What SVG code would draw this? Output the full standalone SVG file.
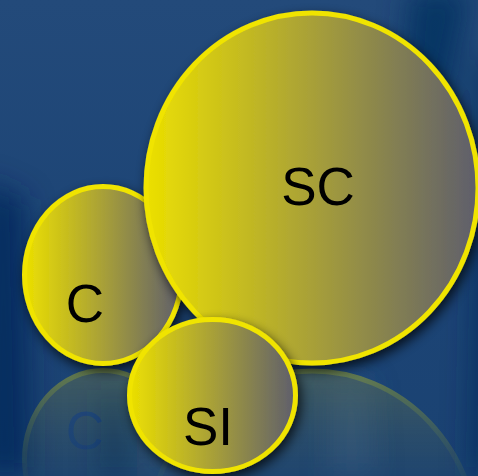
<svg xmlns="http://www.w3.org/2000/svg" width="478" height="476" viewBox="0 0 478 476">
  <defs>
    <linearGradient id="bg" x1="0" y1="0" x2="0" y2="1">
      <stop offset="0" stop-color="#234a7a"/>
      <stop offset="0.5" stop-color="#1d4576"/>
      <stop offset="1" stop-color="#1a4272"/>
    </linearGradient>
    <linearGradient id="ball" x1="0" y1="0" x2="1" y2="0">
      <stop offset="0" stop-color="#ece000"/>
      <stop offset="0.5" stop-color="#a8a038"/>
      <stop offset="1" stop-color="#5e5e6c"/>
    </linearGradient>
    <linearGradient id="fade" x1="0" y1="0" x2="0" y2="1">
      <stop offset="0" stop-color="#fff" stop-opacity="0.35"/>
      <stop offset="0.6" stop-color="#fff" stop-opacity="0.15"/>
      <stop offset="1" stop-color="#fff" stop-opacity="0.05"/>
    </linearGradient>
    <mask id="reflMask" maskUnits="userSpaceOnUse" x="0" y="360" width="478" height="116">
      <rect x="0" y="366" width="478" height="110" fill="url(#fade)"/>
    </mask>
    <filter id="shadow" x="-20%" y="-20%" width="140%" height="140%">
      <feGaussianBlur in="SourceAlpha" stdDeviation="6"/>
      <feOffset dx="3" dy="5" result="b"/>
      <feComponentTransfer><feFuncA type="linear" slope="0.75"/></feComponentTransfer>
      <feMerge><feMergeNode/><feMergeNode in="SourceGraphic"/></feMerge>
    </filter>
    <filter id="soft" x="-50%" y="-50%" width="200%" height="200%">
      <feGaussianBlur stdDeviation="14"/>
    </filter>
    <style>
      .ball { fill: url(#ball); stroke: #f0e400; stroke-width: 5; }
      .lbl { font-family: "Liberation Sans", Arial, sans-serif; font-size: 53px; fill: #000; text-anchor: middle; }
    </style>
  </defs>

  <!-- background -->
  <rect width="478" height="476" fill="url(#bg)"/>
  <g filter="url(#soft)">
    <path d="M-20 180 L25 200 L30 476 L-20 476 Z" fill="#05285a" opacity="0.8"/>
    <path d="M410 -10 L470 -10 L440 140 L400 120 Z" fill="#08305f" opacity="0.8"/>
    <path d="M478 60 L500 60 L500 476 L470 476 Z" fill="#062a58" opacity="0.7"/>
    <path d="M330 380 L370 380 L375 476 L330 476 Z" fill="#3a6090" opacity="0.35"/>
    <path d="M150 380 L190 380 L195 476 L150 476 Z" fill="#3a6090" opacity="0.3"/>
    <path d="M100 390 L125 390 L130 476 L100 476 Z" fill="#062a58" opacity="0.5"/>
  </g>

  <!-- reflections -->
  <g id="reflections" mask="url(#reflMask)">
    <g transform="translate(0,734) scale(1,-1)">
      <ellipse cx="103" cy="275" rx="78.5" ry="88.5" fill="#8a8a3a" stroke="#f0e400" stroke-width="5"/>
      <text class="lbl" x="85" y="322" fill="#3a5a8a" style="fill:#3a5a8a">C</text>
      <ellipse cx="312" cy="188" rx="166" ry="175" fill="#8a8a3a" stroke="#f0e400" stroke-width="5"/>
    </g>
  </g>

  <g id="node-c" filter="url(#shadow)">
    <ellipse class="ball" cx="103" cy="275" rx="78.5" ry="88.5"/>
    <text class="lbl" x="85" y="322">C</text>
  </g>

  <g id="node-sc" filter="url(#shadow)">
    <ellipse class="ball" cx="312" cy="188" rx="166" ry="175"/>
    <text class="lbl" x="318" y="205">SC</text>
  </g>

  <g id="node-si" filter="url(#shadow)">
    <ellipse class="ball" cx="212.5" cy="395.5" rx="83" ry="76"/>
    <text class="lbl" x="208" y="445">SI</text>
  </g>

  <g id="connectors"/>
</svg>
